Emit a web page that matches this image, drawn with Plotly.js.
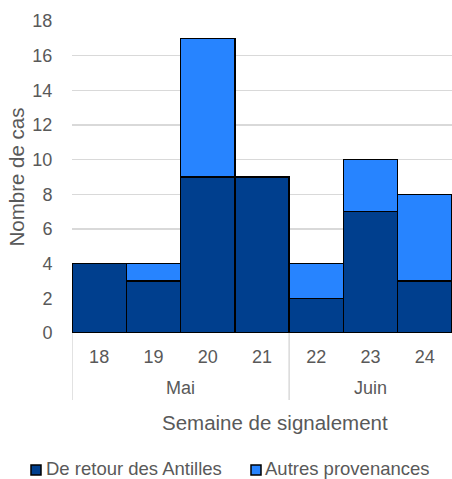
<!DOCTYPE html>
<html><head><meta charset="utf-8">
<script src="https://cdn.plot.ly/plotly-3.0.1.min.js"></script>
<style>html,body{margin:0;padding:0;background:#fff}#c{width:452px;height:479px}</style>
</head><body><div id="c"></div>
<script>
const months = ["Mai","Mai","Mai","Mai","Juin","Juin","Juin"];
const weeks = ["18","19","20","21","22","23","24"];
const antilles = [4,3,9,9,2,7,3];
const autres = [0,1,8,0,2,3,5];
const yTicks = [0,2,4,6,8,10,12,14,16,18];
const seriesNames = ["De retour des Antilles", "Autres provenances"];
const seriesColors = ["#003F8E", "#2784FF"];

const W = 452, H = 479, ML = 72, MR = 0, MT = 21, MB = 146;
const PW = W - ML - MR, PH = H - MT - MB;
const px2x = p => (p - ML) / PW;
const px2y = p => (H - MB - p) / PH;

const data = [
  {type:'bar', name:seriesNames[0], x:weeks, y:antilles, marker:{color:seriesColors[0], line:{color:'#000',width:1.5}}},
  {type:'bar', name:seriesNames[1], x:weeks, y:autres, marker:{color:seriesColors[1], line:{color:'#000',width:1.5}}}
];

const txt = '#595959';
const annotations = [];
const shapes = [];
// month groups derived from the months array
let start = 0;
for (let i = 1; i <= months.length; i++) {
  if (i === months.length || months[i] !== months[start]) {
    annotations.push({xref:'x', yref:'paper', x:(start + i - 1) / 2, y:px2y(388), yanchor:'middle', xanchor:'center',
      text:months[start], showarrow:false, font:{size:18, color:txt}});
    shapes.push({type:'line', xref:'x', yref:'paper', x0:start - 0.5, x1:start - 0.5, y0:0, y1:px2y(400),
      line:{color:'#d9d9d9', width:1.5}, layer:'below'});
    start = i;
  }
}
// x axis title
annotations.push({xref:'paper', yref:'paper', x:px2x(275), y:px2y(423), xanchor:'center', yanchor:'middle',
  text:'Semaine de signalement', showarrow:false, font:{size:20.5, color:txt}});
// legend
const legSq = [31, 251], legTx = [45, 264];
for (let k = 0; k < seriesNames.length; k++) {
  shapes.push({type:'rect', xref:'paper', yref:'paper', x0:px2x(legSq[k]), x1:px2x(legSq[k] + 10),
    y0:px2y(465), y1:px2y(475), fillcolor:seriesColors[k], line:{color:'#000', width:1.5}});
  annotations.push({xref:'paper', yref:'paper', x:px2x(legTx[k]), y:px2y(468), xanchor:'left', yanchor:'middle',
    text:seriesNames[k], showarrow:false, borderpad:0, font:{size:18.5, color:txt}});
}

const layout = {
  width:W, height:H, barmode:'stack', bargap:0,
  margin:{l:ML, r:MR, t:MT, b:MB},
  font:{family:'Liberation Sans, Arial, sans-serif', color:txt, size:18},
  paper_bgcolor:'#fff', plot_bgcolor:'#fff',
  showlegend:false,
  xaxis:{type:'category', range:[-0.5, 6.5], automargin:false, showgrid:false, zeroline:false, showline:false,
    ticks:'outside', ticklen:7, tickcolor:'rgba(0,0,0,0)', tickfont:{size:18, color:txt}},
  yaxis:{range:[0,18], tickvals:yTicks, automargin:false, showgrid:true, gridcolor:'#d9d9d9', gridwidth:1.5, zeroline:false,
    showline:false, ticks:'outside', ticklen:15, tickcolor:'rgba(0,0,0,0)', tickfont:{size:18, color:txt},
    title:{text:'Nombre de cas', font:{size:20.5, color:txt}, standoff:2}},
  annotations: annotations,
  shapes: shapes
};
Plotly.newPlot('c', data, layout, {displayModeBar:false, staticPlot:true});
</script></body></html>
